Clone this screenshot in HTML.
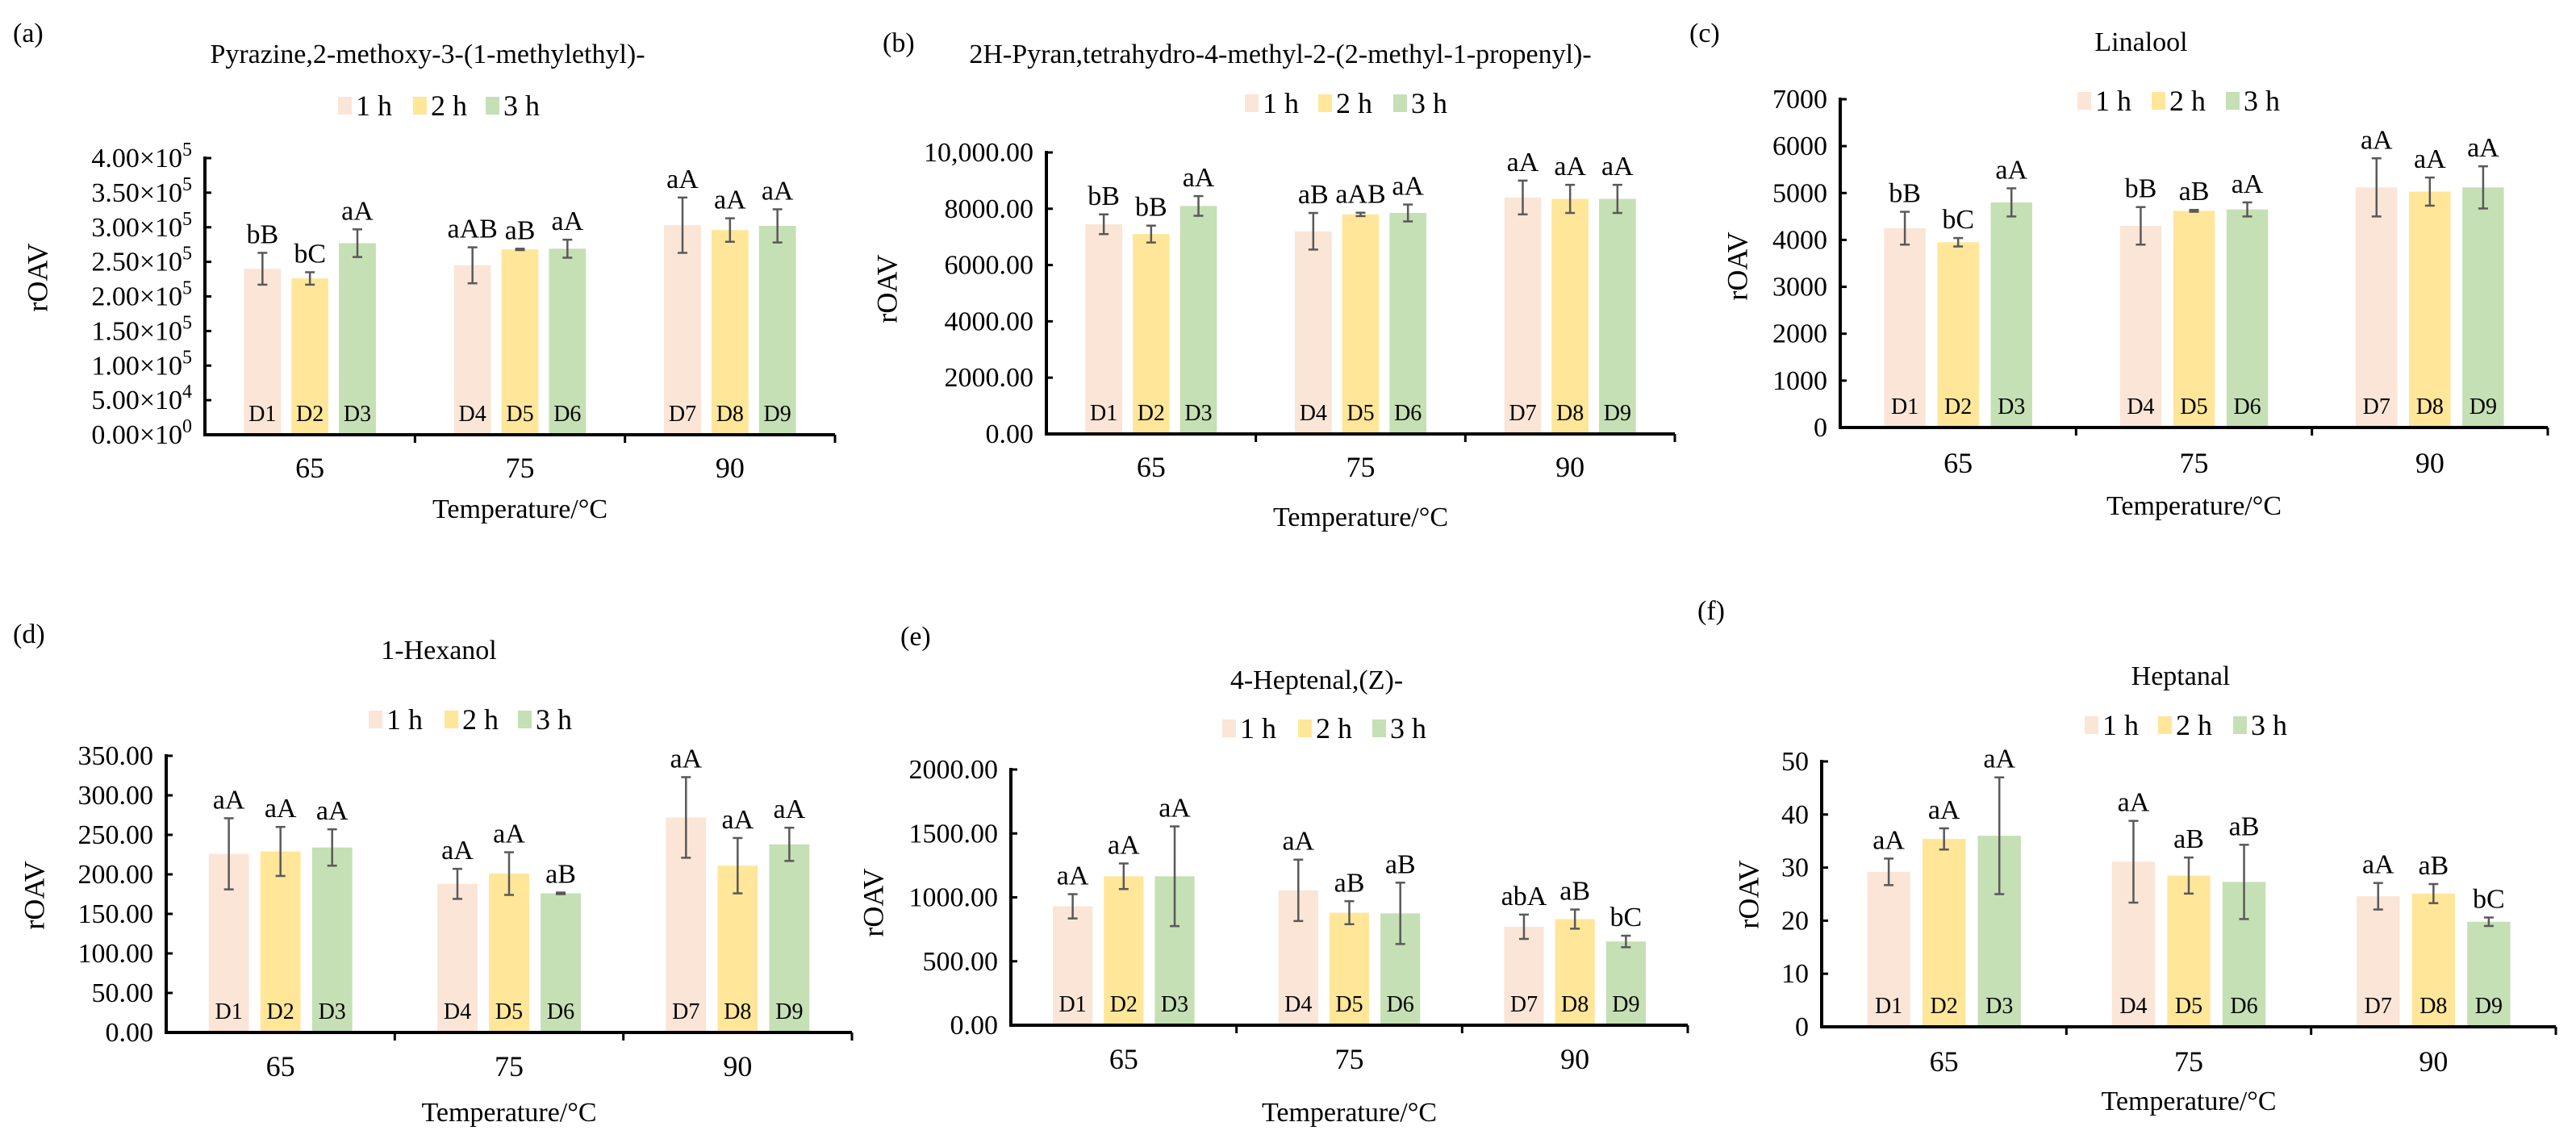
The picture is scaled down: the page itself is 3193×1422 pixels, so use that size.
<!DOCTYPE html>
<html><head><meta charset="utf-8">
<style>
html,body{margin:0;padding:0;background:#fff;}
svg{display:block;font-family:"Liberation Serif","Times New Roman",serif;}
svg text, svg tspan{font-family:"Liberation Serif","Times New Roman",serif;}
</style></head>
<body>
<svg id="fig" width="3193" height="1422" viewBox="0 0 3193 1422" xmlns="http://www.w3.org/2000/svg"></svg>
<script>
// ---- Data ----
const categories = ["65", "75", "90"];
const seriesNames = ["1 h", "2 h", "3 h"];
const sampleLabels = ["D1","D2","D3","D4","D5","D6","D7","D8","D9"];

const aValues = [240000,226000,277000, 245000,268000,269000, 303000,296000,302000];
const aErrors = [23000,9000,20000, 26000,1000,13000, 40000,17000,24000];
const aLetters = ["bB","bC","aA","aAB","aB","aA","aA","aA","aA"];
const aTicks = [0,50000,100000,150000,200000,250000,300000,350000,400000];

const bValues = [7450,7100,8100, 7200,7800,7850, 8400,8350,8350];
const bErrors = [350,300,350, 650,60,300, 600,500,500];
const bLetters = ["bB","bB","aA","aB","aAB","aA","aA","aA","aA"];
const bTicks = [0,2000,4000,6000,8000,10000];

const cValues = [4250,3950,4800, 4300,4620,4650, 5120,5030,5120];
const cErrors = [350,90,300, 400,20,150, 620,300,450];
const cLetters = ["bB","bC","aA","bB","aB","aA","aA","aA","aA"];
const cTicks = [0,1000,2000,3000,4000,5000,6000,7000];

const dValues = [226,229,234, 188,201,176, 272,211,238];
const dErrors = [45,31,23, 19,27,1, 51,35,21];
const dLetters = ["aA","aA","aA","aA","aA","aB","aA","aA","aA"];
const dTicks = [0,50,100,150,200,250,300,350];

const eValues = [930,1165,1165, 1055,880,875, 770,830,655];
const eErrors = [95,100,390, 240,90,240, 95,75,45];
const eLetters = ["aA","aA","aA","aA","aB","aB","abA","aB","bC"];
const eTicks = [0,500,1000,1500,2000];

const fValues = [29.2,35.4,36.0, 31.1,28.5,27.3, 24.6,25.1,19.8];
const fErrors = [2.5,2.0,11.0, 7.7,3.4,7.0, 2.5,1.8,0.8];
const fLetters = ["aA","aA","aA","aA","aB","aB","aA","aB","bC"];
const fTicks = [0,10,20,30,40,50];

const colors = ["#FBE5D6","#FFE699","#C5E0B4"];
const NS = "http://www.w3.org/2000/svg";
const svg = document.getElementById("fig");

function el(tag, attrs, parent, text) {
  const e = document.createElementNS(NS, tag);
  for (const k in attrs) e.setAttribute(k, attrs[k]);
  if (tag === "text") e.setAttribute("font-family", "Liberation Serif, Times New Roman, serif");
  if (text !== undefined) e.textContent = text;
  (parent || svg).appendChild(e);
  return e;
}

function sciLabel(v) {
  if (v === 0) return ["0.00×10", "0"];
  const exp = Math.floor(Math.log10(v));
  return [(v / Math.pow(10, exp)).toFixed(2) + "×10", String(exp)];
}
const fmt = {
  sci: v => sciLabel(v),
  comma2: v => v >= 10000 ? v.toLocaleString("en-US",{minimumFractionDigits:2}) : v.toFixed(2),
  int: v => String(v),
  fix2: v => v.toFixed(2)
};

const panels = [
  {id:"a", tag:"(a)", tagX:16, tagY:52, title:"Pyrazine,2-methoxy-3-(1-methylethyl)-", titleX:530, titleY:78,
   legY:131, legX:[419,512,602], x0:254, x1:1035, yTop:196, yZero:539, max:400000, ticks:aTicks, fmt:"sci",
   values:aValues, errors:aErrors, letters:aLetters, catY:592, xtY:642, ytX:50, ytY:344},
  {id:"b", tag:"(b)", tagX:1094, tagY:64, title:"2H-Pyran,tetrahydro-4-methyl-2-(2-methyl-1-propenyl)-", titleX:1587, titleY:78,
   legY:128, legX:[1543,1634,1727], x0:1297, x1:2076, yTop:189, yZero:538, max:10000, ticks:bTicks, fmt:"comma2",
   values:bValues, errors:bErrors, letters:bLetters, catY:591, xtY:652, ytX:1103, ytY:358},
  {id:"c", tag:"(c)", tagX:2094, tagY:52, title:"Linalool", titleX:2654, titleY:63,
   legY:125, legX:[2575,2667,2759], x0:2281, x1:3158, yTop:123, yZero:530, max:7000, ticks:cTicks, fmt:"int",
   values:cValues, errors:cErrors, letters:cLetters, catY:586, xtY:638, ytX:2157, ytY:330},
  {id:"d", tag:"(d)", tagX:16, tagY:797, title:"1-Hexanol", titleX:544, titleY:817,
   legY:892, legX:[457,551,642], x0:206, x1:1056, yTop:937, yZero:1280, max:350, ticks:dTicks, fmt:"fix2",
   values:dValues, errors:dErrors, letters:dLetters, catY:1334, xtY:1390, ytX:46, ytY:1110},
  {id:"e", tag:"(e)", tagX:1116, tagY:800, title:"4-Heptenal,(Z)-", titleX:1632, titleY:854,
   legY:903, legX:[1515,1609,1701], x0:1253, x1:2092, yTop:954, yZero:1271, max:2000, ticks:eTicks, fmt:"fix2",
   values:eValues, errors:eErrors, letters:eLetters, catY:1325, xtY:1390, ytX:1086, ytY:1119},
  {id:"f", tag:"(f)", tagX:2104, tagY:768, title:"Heptanal", titleX:2703, titleY:849,
   legY:899, legX:[2584,2675,2768], x0:2258, x1:3168, yTop:944, yZero:1273, max:50, ticks:fTicks, fmt:"int",
   values:fValues, errors:fErrors, letters:fLetters, catY:1328, xtY:1376, ytX:2171, ytY:1109}
];

panels.forEach(p => {
  const g = el("g", {});
  
  
  const yScale = v => p.yZero - (v / p.max) * (p.yZero - p.yTop);
  const cw = (p.x1 - p.x0) / categories.length;
  const barW = cw * 0.176, step = cw * 0.226;
  const xBar = (ci, si) => p.x0 + cw * (ci + 0.5) + (si - 1) * step - barW / 2;

  let t = el("text", {x:p.tagX, y:p.tagY, "font-size":34, fill:"#000"}, g, p.tag);
  
  
  t = el("text", {x:p.titleX, y:p.titleY, "font-size":34, "text-anchor":"middle", fill:"#000"}, g, p.title);
  
  

  // legend
  seriesNames.forEach((n, si) => {
    const lg = el("g", {}, g);
    
    
    el("rect", {x:p.legX[si], y:p.legY - 11, width:17, height:22, fill:colors[si]}, lg);
    el("text", {x:p.legX[si] + 22, y:p.legY + 12, "font-size":36, fill:"#000"}, lg, n);
  });

  // bars
  for (let ci = 0; ci < categories.length; ci++) {
    for (let si = 0; si < 3; si++) {
      const i = ci * 3 + si;
      const v = p.values[i], e = p.errors[i];
      const bx = xBar(ci, si), by = yScale(v);
      const r = el("rect", {x:bx, y:by, width:barW, height:p.yZero - by, fill:colors[si]}, g);
      
      
      const cx = bx + barW / 2;
      const eg = el("g", {stroke:"#595959", "stroke-width":2.5, fill:"none"}, g);
      
      
      const yt = yScale(v + e), yb = yScale(v - e);
      el("line", {x1:cx, x2:cx, y1:yt, y2:yb}, eg);
      el("line", {x1:cx - 6, x2:cx + 6, y1:yt, y2:yt}, eg);
      el("line", {x1:cx - 6, x2:cx + 6, y1:yb, y2:yb}, eg);
      const lt = el("text", {x:cx, y:yt - 12, "font-size":34, "text-anchor":"middle", fill:"#000"}, g, p.letters[i]);
      
      
      const dl = el("text", {x:cx, y:p.yZero - 17, "font-size":28, "text-anchor":"middle", fill:"#000"}, g, sampleLabels[i]);
      
      
    }
    const cl = el("text", {x:p.x0 + cw * (ci + 0.5), y:p.catY, "font-size":36, "text-anchor":"middle", fill:"#000"}, g, categories[ci]);
    
    
  }

  // axes
  const ax = el("g", {stroke:"#000", "stroke-width":4, fill:"none"}, g);
  
  
  el("line", {x1:p.x0, x2:p.x0, y1:p.yTop - 2, y2:p.yZero + 2}, ax);
  el("line", {x1:p.x0 - 2, x2:p.x1, y1:p.yZero, y2:p.yZero}, ax);
  for (let k = 1; k <= categories.length; k++) {
    const xx = p.x0 + cw * k;
    el("line", {x1:xx, x2:xx, y1:p.yZero, y2:p.yZero + 10, "stroke-width":3}, ax);
  }
  p.ticks.forEach(tv => {
    const yy = yScale(tv);
    el("line", {x1:p.x0, x2:p.x0 + 8, y1:yy, y2:yy, "stroke-width":3}, ax);
    const lab = fmt[p.fmt](tv);
    const tt = el("text", {x:p.x0 - 16, y:yy + 11, "font-size":34, "text-anchor":"end", fill:"#000"}, g);
    
    
    if (Array.isArray(lab)) {
      el("tspan", {}, tt, lab[0]);
      el("tspan", {dy:-14, "font-size":24}, tt, lab[1]);
    } else tt.textContent = lab;
  });

  const yt = el("text", {x:p.ytX, y:p.ytY, "font-size":36, "text-anchor":"middle", fill:"#000",
    transform:"rotate(-90 " + p.ytX + " " + p.ytY + ")", "dominant-baseline":"middle"}, g, "rOAV");
  
  
  const xt = el("text", {x:(p.x0 + p.x1) / 2, y:p.xtY, "font-size":34, "text-anchor":"middle", fill:"#000"}, g, "Temperature/°C");
  
  
});
</script>
</body></html>
